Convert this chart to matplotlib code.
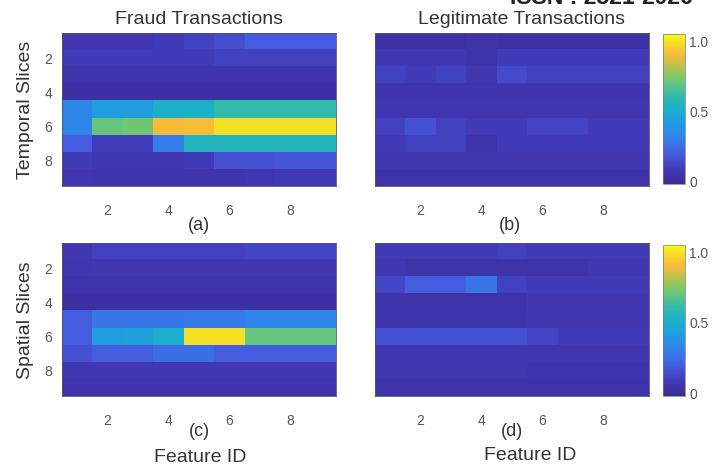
import numpy as np
import matplotlib
matplotlib.use("Agg")
import matplotlib.pyplot as plt
from matplotlib.colors import LinearSegmentedColormap

# ---------------- data ----------------
feature_ids = [1, 2, 3, 4, 5, 6, 7, 8, 9]
slice_ids = [1, 2, 3, 4, 5, 6, 7, 8, 9]
tick_vals = [2, 4, 6, 8]

fraud_temporal = [
    [0.07, 0.07, 0.07, 0.09, 0.11, 0.15, 0.20, 0.20, 0.20],
    [0.09, 0.09, 0.09, 0.09, 0.09, 0.11, 0.11, 0.11, 0.11],
    [0.05, 0.05, 0.05, 0.05, 0.05, 0.05, 0.05, 0.05, 0.05],
    [0.02, 0.02, 0.02, 0.02, 0.02, 0.02, 0.02, 0.02, 0.02],
    [0.33, 0.42, 0.42, 0.52, 0.52, 0.60, 0.60, 0.60, 0.60],
    [0.33, 0.70, 0.72, 0.91, 0.92, 0.99, 0.99, 0.99, 0.99],
    [0.20, 0.10, 0.10, 0.30, 0.55, 0.55, 0.55, 0.55, 0.55],
    [0.09, 0.06, 0.06, 0.06, 0.09, 0.16, 0.16, 0.18, 0.18],
    [0.06, 0.05, 0.05, 0.05, 0.05, 0.05, 0.06, 0.08, 0.08],
]
legit_temporal = [
    [0.03, 0.03, 0.03, 0.05, 0.03, 0.03, 0.03, 0.03, 0.03],
    [0.07, 0.07, 0.07, 0.04, 0.09, 0.09, 0.09, 0.09, 0.09],
    [0.11, 0.09, 0.11, 0.07, 0.14, 0.11, 0.11, 0.11, 0.11],
    [0.05, 0.05, 0.05, 0.05, 0.05, 0.05, 0.05, 0.05, 0.05],
    [0.06, 0.06, 0.06, 0.06, 0.06, 0.06, 0.06, 0.06, 0.06],
    [0.11, 0.16, 0.11, 0.09, 0.09, 0.12, 0.12, 0.09, 0.09],
    [0.09, 0.11, 0.11, 0.04, 0.09, 0.09, 0.09, 0.09, 0.09],
    [0.06, 0.06, 0.06, 0.06, 0.06, 0.06, 0.06, 0.06, 0.06],
    [0.04, 0.04, 0.04, 0.04, 0.04, 0.04, 0.04, 0.04, 0.04],
]
fraud_spatial = [
    [0.07, 0.11, 0.11, 0.11, 0.11, 0.11, 0.13, 0.13, 0.13],
    [0.06, 0.07, 0.07, 0.07, 0.07, 0.07, 0.07, 0.07, 0.07],
    [0.04, 0.04, 0.04, 0.04, 0.04, 0.04, 0.04, 0.04, 0.04],
    [0.02, 0.02, 0.02, 0.02, 0.02, 0.02, 0.02, 0.02, 0.02],
    [0.20, 0.27, 0.27, 0.27, 0.29, 0.29, 0.32, 0.32, 0.32],
    [0.20, 0.42, 0.44, 0.50, 0.99, 0.99, 0.70, 0.70, 0.70],
    [0.16, 0.20, 0.20, 0.25, 0.25, 0.20, 0.20, 0.20, 0.20],
    [0.07, 0.07, 0.07, 0.07, 0.07, 0.07, 0.07, 0.07, 0.07],
    [0.05, 0.05, 0.05, 0.05, 0.05, 0.05, 0.05, 0.05, 0.05],
]
legit_spatial = [
    [0.09, 0.09, 0.09, 0.09, 0.11, 0.09, 0.09, 0.09, 0.09],
    [0.07, 0.04, 0.04, 0.04, 0.04, 0.04, 0.04, 0.07, 0.07],
    [0.13, 0.20, 0.20, 0.27, 0.11, 0.09, 0.09, 0.09, 0.09],
    [0.04, 0.04, 0.04, 0.04, 0.04, 0.07, 0.07, 0.07, 0.07],
    [0.05, 0.05, 0.05, 0.05, 0.05, 0.07, 0.07, 0.07, 0.07],
    [0.16, 0.16, 0.16, 0.16, 0.16, 0.12, 0.09, 0.09, 0.09],
    [0.06, 0.06, 0.06, 0.06, 0.06, 0.06, 0.06, 0.06, 0.06],
    [0.06, 0.06, 0.06, 0.06, 0.06, 0.05, 0.05, 0.05, 0.05],
    [0.04, 0.04, 0.04, 0.04, 0.04, 0.04, 0.04, 0.04, 0.04],
]

cbar_ticks = [0, 0.5, 1.0]
cbar_labels = ["0", "0.5", "1.0"]

# ---------------- parula-like colormap ----------------
parula_pts = [
    (0.00, (0.2300, 0.1700, 0.5900)),
    (0.10, (0.2600, 0.2300, 0.7200)),
    (0.20, (0.2700, 0.3600, 0.8800)),
    (0.30, (0.2000, 0.5000, 0.9200)),
    (0.40, (0.1300, 0.6100, 0.8900)),
    (0.50, (0.1000, 0.6900, 0.7900)),
    (0.60, (0.2200, 0.7400, 0.6400)),
    (0.70, (0.4600, 0.7800, 0.4400)),
    (0.80, (0.7600, 0.7600, 0.2900)),
    (0.87, (0.9800, 0.7300, 0.2300)),
    (0.95, (0.9600, 0.8900, 0.1500)),
    (1.00, (0.9769, 0.9839, 0.0805)),
]
parula = LinearSegmentedColormap.from_list("parula", parula_pts)

plt.rcParams["font.family"] = ["Liberation Sans", "DejaVu Sans"]

fig = plt.figure(figsize=(7.27, 4.70), dpi=100)
W, H = 727.0, 470.0

def rect(x0, y0, x1, y1):
    return [x0 / W, 1 - y1 / H, (x1 - x0) / W, (y1 - y0) / H]

VMIN, VMAX = -0.02, 1.05
txt_col = "#333333"
tick_col = "#555555"

panels = [
    (fraud_temporal, rect(62, 33, 336, 186), "Fraud Transactions", True, 0.0),
    (legit_temporal, rect(375, 33, 649, 186), "Legitimate Transactions", False, 10.0),
    (fraud_spatial, rect(62, 243, 336, 396), None, True, 0.0),
    (legit_spatial, rect(375, 243, 649, 396), None, False, 0.0),
]

axes = []
for data, r, title, show_y, tshift in panels:
    ax = fig.add_axes(r)
    arr = np.array(data)
    im = ax.imshow(arr, cmap=parula, vmin=VMIN, vmax=VMAX, aspect="auto",
                   interpolation="nearest",
                   extent=(feature_ids[0] - 0.5, feature_ids[-1] + 0.5,
                           slice_ids[-1] + 0.5, slice_ids[0] - 0.5))
    ax.set_xticks(tick_vals)
    ax.set_xticklabels([str(v) for v in tick_vals])
    if show_y:
        ax.set_yticks(tick_vals)
        ax.set_yticklabels([str(v) for v in tick_vals])
    else:
        ax.set_yticks([])
    ax.tick_params(axis="x", length=0, pad=13, labelsize=10, labelcolor=tick_col)
    ax.tick_params(axis="y", length=0, pad=7, labelsize=10, labelcolor=tick_col)
    for s in ax.spines.values():
        s.set_linewidth(0.6)
        s.set_color("#555555")
    if title:
        cx = r[0] + r[2] / 2 + tshift / W
        fig.text(cx, 1 - 20 / H, title, fontsize=14, color=txt_col,
                 ha="center", va="center")
    axes.append((ax, im))

# colorbars
for r in [rect(663, 34, 685, 184), rect(663, 245, 685, 396)]:
    cax = fig.add_axes(r)
    cb = fig.colorbar(axes[0][1], cax=cax)
    cb.set_ticks(cbar_ticks)
    cb.set_ticklabels(cbar_labels)
    cb.ax.tick_params(length=0, pad=3, labelsize=10, labelcolor=tick_col)
    cb.outline.set_linewidth(0.5)
    cb.outline.set_edgecolor("#777777")

# y labels
fig.text(25 / W, 1 - 110 / H, "Temporal Slices", rotation=90, fontsize=14,
         color=txt_col, ha="center", va="center")
fig.text(25 / W, 1 - 320 / H, "Spatial Slices", rotation=90, fontsize=14,
         color=txt_col, ha="center", va="center")

# panel labels
fig.text(199 / W, 1 - 225 / H, "(a)", fontsize=13, color=txt_col, ha="center", va="center")
fig.text(510 / W, 1 - 226 / H, "(b)", fontsize=13, color=txt_col, ha="center", va="center")
fig.text(199 / W, 1 - 432 / H, "(c)", fontsize=13, color=txt_col, ha="center", va="center")
fig.text(512 / W, 1 - 432 / H, "(d)", fontsize=13, color=txt_col, ha="center", va="center")

# x labels
fig.text(200 / W, 1 - 457 / H, "Feature ID", fontsize=14, color=txt_col, ha="center", va="center")
fig.text(530 / W, 1 - 456 / H, "Feature ID", fontsize=14, color=txt_col, ha="center", va="center")

# header text cut by the top edge (only its lower part is visible)
fig.text(601 / W, 1 - 4.5 / H, "ISSN : 2321-2926", fontsize=16.5, fontweight="bold",
         color="#222222", ha="center", va="baseline")

fig.savefig("out.png", dpi=100)
